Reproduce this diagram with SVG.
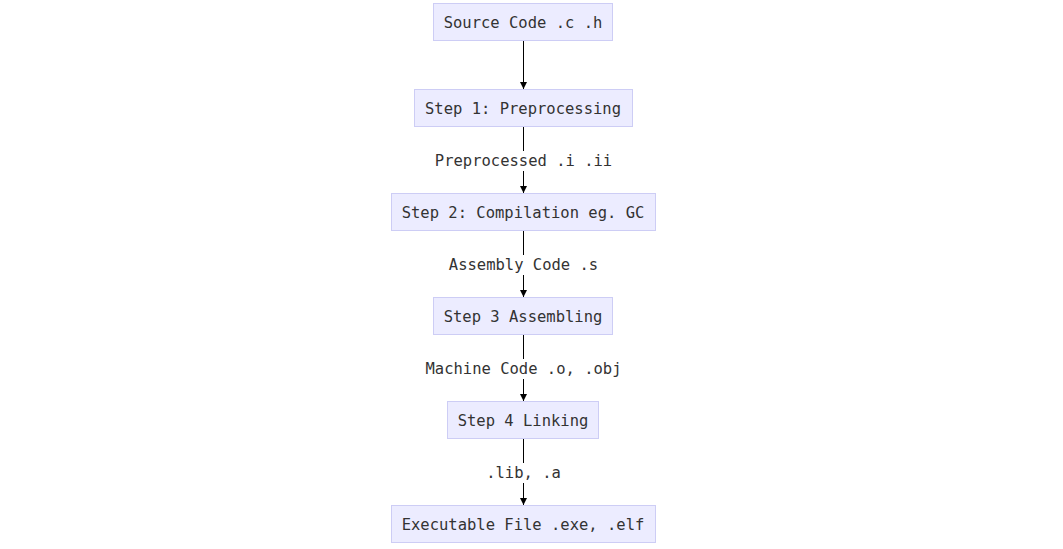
<svg xmlns="http://www.w3.org/2000/svg" width="1063" height="549" viewBox="0 0 1063 549">
<style>
.node rect{fill:#ECECFF;stroke:#CDCDF5;stroke-width:1}
text{font-family:"DejaVu Sans Mono","Liberation Mono",monospace;font-size:15.5px;fill:#333;text-anchor:middle;dominant-baseline:central}
.edge{stroke:#000;stroke-width:1;fill:none}
.lbl{fill:#fff}
</style>
<defs>
<marker id="arr" viewBox="0 0 10 10" refX="10" refY="5" markerWidth="7" markerHeight="7" orient="auto" markerUnits="userSpaceOnUse">
<path d="M0,0 L10,5 L0,10 z" fill="#000"/>
</marker>
</defs>
<rect width="1063" height="549" fill="#fff"/>
<g id="connectors">
<line class="edge" x1="523.5" y1="40" x2="523.5" y2="89" marker-end="url(#arr)"/>
<line class="edge" x1="523.5" y1="127" x2="523.5" y2="193" marker-end="url(#arr)"/>
<line class="edge" x1="523.5" y1="231" x2="523.5" y2="297" marker-end="url(#arr)"/>
<line class="edge" x1="523.5" y1="335" x2="523.5" y2="401" marker-end="url(#arr)"/>
<line class="edge" x1="523.5" y1="439" x2="523.5" y2="505" marker-end="url(#arr)"/>
<g id="label1"><rect class="lbl" x="432" y="151" width="183" height="20"/><text x="523.5" y="161">Preprocessed .i .ii</text></g>
<g id="label2"><rect class="lbl" x="446" y="255" width="155" height="20"/><text x="523.5" y="265">Assembly Code .s</text></g>
<g id="label3"><rect class="lbl" x="423" y="359" width="201" height="20"/><text x="523.5" y="369">Machine Code .o, .obj</text></g>
<g id="label4"><rect class="lbl" x="485" y="463" width="77" height="20"/><text x="523.5" y="473">.lib, .a</text></g>
</g>
<g id="source" class="node"><rect x="433.5" y="3.5" width="179" height="37"/><text x="523" y="23">Source Code .c .h</text></g>
<g id="step1" class="node"><rect x="414.5" y="89.5" width="218" height="37"/><text x="523" y="109">Step 1: Preprocessing</text></g>
<g id="step2" class="node"><rect x="391.5" y="193.5" width="264" height="37"/><text x="523" y="213">Step 2: Compilation eg. GC</text></g>
<g id="step3" class="node"><rect x="433.5" y="297.5" width="179" height="37"/><text x="523" y="317">Step 3 Assembling</text></g>
<g id="step4" class="node"><rect x="447.5" y="401.5" width="151" height="37"/><text x="523" y="421">Step 4 Linking</text></g>
<g id="exec" class="node"><rect x="391.5" y="505.5" width="264" height="37"/><text x="523" y="525">Executable File .exe, .elf</text></g>
</svg>
